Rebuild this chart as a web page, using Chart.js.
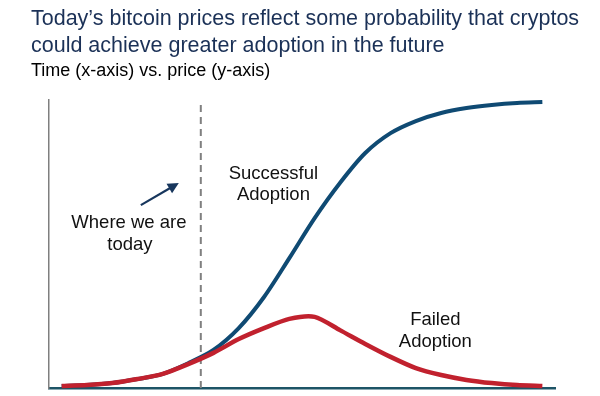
<!DOCTYPE html>
<html>
<head>
<meta charset="utf-8">
<script src="https://cdn.jsdelivr.net/npm/chart.js@4"></script>
<style>
  body { margin: 0; background: #fff; font-family: "Liberation Sans", Arial, sans-serif; }
  #wrap { position: relative; width: 600px; height: 396px; }
  #chart { position: absolute; left: 0; top: 0; }
  .title { position: absolute; left: 31px; top: 5px; font-size: 21.5px; line-height: 27px; color: #1b3157; white-space: nowrap; }
  .subtitle { position: absolute; left: 31px; top: 60px; font-size: 18px; color: #000; white-space: nowrap; }
</style>
</head>
<body>
<div id="wrap">
  <canvas id="chart" width="600" height="396"></canvas>
  <div class="title">Today’s bitcoin prices reflect some probability that cryptos<br>could achieve greater adoption in the future</div>
  <div class="subtitle">Time (x-axis) vs. price (y-axis)</div>
</div>
<script>
// time steps (x) and price levels (y)
const timeSteps = [0.5, 1.5, 2.5, 3.5, 4.5, 5.5, 6.5, 7.5, 8.5, 9.5, 10.5, 11.5, 12.5, 13.5, 14.5, 15.5, 16.5, 17.5, 18.5, 19.5];
const successPrice = [0.7, 1.0, 1.7, 3.1, 4.9, 8.6, 13.2, 20.8, 31.6, 45.1, 59.0, 71.2, 81.6, 88.5, 92.7, 95.5, 97.2, 98.3, 99.0, 99.3];
const failedPrice = [0.7, 1.0, 1.7, 3.1, 4.9, 8.3, 12.2, 17.0, 20.8, 24.0, 24.7, 20.1, 15.3, 10.8, 6.9, 4.5, 2.8, 1.7, 1.0, 0.7];
const todayX = 6;
const todayLine = [0, 98.6];

const FONT = "'Liberation Sans', Arial, sans-serif";

const toPoints = (xs, ys) => xs.map((x, i) => ({ x: x, y: ys[i] }));

// text labels and arrow, placed in data units
const labelsPlugin = {
  id: "labels",
  afterDatasetsDraw(chart) {
    const ctx = chart.ctx;
    const xs = chart.scales.x, ys = chart.scales.y;
    const px = v => xs.getPixelForValue(v);
    const py = v => ys.getPixelForValue(v);

    ctx.save();
    ctx.fillStyle = "#111";
    ctx.font = "18.5px " + FONT;
    ctx.textAlign = "center";
    ctx.textBaseline = "middle";

    ctx.fillText("Where we are", px(3.16), py(57.3));
    ctx.fillText("today", px(3.2), py(49.7));
    ctx.fillText("Successful", px(8.87), py(74.3));
    ctx.fillText("Adoption", px(8.87), py(67.0));
    ctx.fillText("Failed", px(15.27), py(23.6));
    ctx.fillText("Adoption", px(15.27), py(16.0));

    // arrow
    const x0 = px(3.63), y0 = py(63.5);
    const x1 = px(5.13), y1 = py(71.2);
    const ang = Math.atan2(y1 - y0, x1 - x0);
    ctx.strokeStyle = "#17365d";
    ctx.fillStyle = "#17365d";
    ctx.lineWidth = 2.2;
    ctx.beginPath();
    ctx.moveTo(x0, y0);
    ctx.lineTo(x1 - 8 * Math.cos(ang), y1 - 8 * Math.sin(ang));
    ctx.stroke();
    ctx.beginPath();
    ctx.moveTo(x1, y1);
    ctx.lineTo(x1 - 11 * Math.cos(ang) + 5.5 * Math.sin(ang), y1 - 11 * Math.sin(ang) - 5.5 * Math.cos(ang));
    ctx.lineTo(x1 - 11 * Math.cos(ang) - 5.5 * Math.sin(ang), y1 - 11 * Math.sin(ang) + 5.5 * Math.cos(ang));
    ctx.closePath();
    ctx.fill();
    ctx.restore();
  }
};

new Chart(document.getElementById("chart"), {
  type: "line",
  data: {
    datasets: [
      {
        label: "Today",
        data: todayLine.map(v => ({ x: todayX, y: v })),
        borderColor: "#808080",
        borderWidth: 2,
        borderDash: [7, 5],
        pointRadius: 0,
        order: 3
      },
      {
        label: "Successful Adoption",
        data: toPoints(timeSteps, successPrice),
        borderColor: "#0f4a73",
        borderWidth: 4,
        tension: 0.3,
        pointRadius: 0,
        order: 2
      },
      {
        label: "Failed Adoption",
        data: toPoints(timeSteps, failedPrice),
        borderColor: "#c1212e",
        borderWidth: 4.5,
        tension: 0.25,
        pointRadius: 0,
        order: 1
      }
    ]
  },
  options: {
    responsive: false,
    animation: false,
    clip: false,
    layout: { padding: { left: 41, right: 45, top: 100, bottom: 0 } },
    plugins: {
      legend: { display: false },
      tooltip: { enabled: false }
    },
    scales: {
      x: {
        type: "linear",
        min: 0,
        max: 20,
        ticks: { display: false },
        grid: { display: false },
        border: { display: true, color: "#1d5466", width: 2.5 }
      },
      y: {
        min: 0,
        max: 100,
        ticks: { display: false },
        grid: { display: false },
        border: { display: true, color: "#7f7f7f", width: 1.5 }
      }
    }
  },
  plugins: [labelsPlugin]
});
</script>
</body>
</html>
